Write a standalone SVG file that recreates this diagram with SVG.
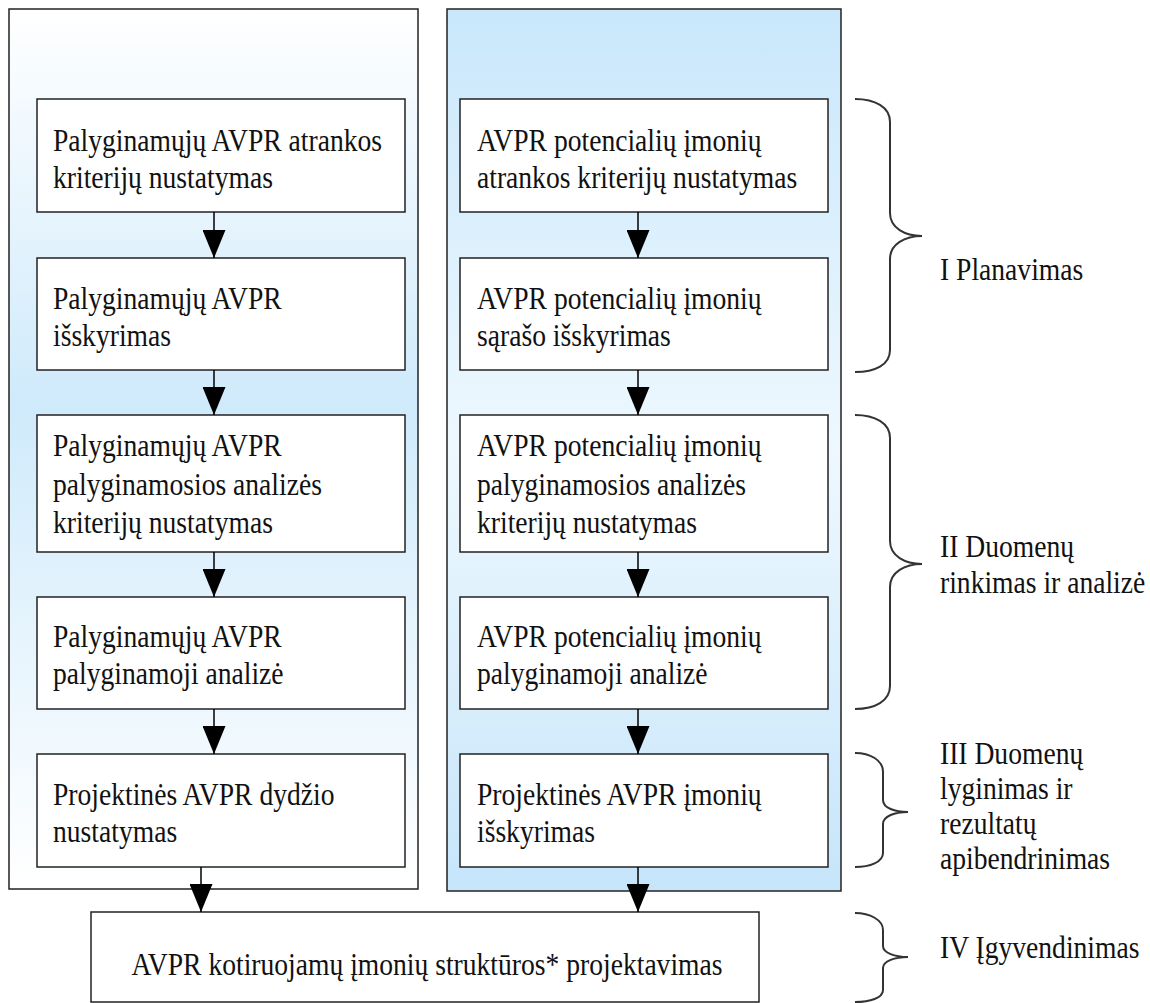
<svg xmlns="http://www.w3.org/2000/svg" width="1150" height="1003" viewBox="0 0 1150 1003">
<defs>
<linearGradient id="gL" x1="0" y1="0" x2="0" y2="1">
<stop offset="0" stop-color="#ffffff"/>
<stop offset="0.45" stop-color="#cfeafb"/>
<stop offset="1" stop-color="#ffffff"/>
</linearGradient>
<linearGradient id="gR" x1="0" y1="0" x2="0" y2="1">
<stop offset="0" stop-color="#c9e7fb"/>
<stop offset="0.5" stop-color="#eef8fe"/>
<stop offset="1" stop-color="#c6e5fa"/>
</linearGradient>
<marker id="ah" markerUnits="userSpaceOnUse" markerWidth="28" markerHeight="23" viewBox="0 0 28 23" refX="28" refY="11.5" orient="auto">
<path d="M0,0 L28,11.5 L0,23 z" fill="#000"/>
</marker>
</defs>
<style>
.panel{stroke:#222;stroke-width:1.5}
.box{fill:#fff;stroke:#222;stroke-width:1.5}
.t{font-family:'Liberation Serif','Times New Roman',serif;font-size:27.6px;fill:#111}
.c{stroke:#000;stroke-width:1.5;fill:none}
.br{stroke:#333;stroke-width:2;fill:none}
</style>
<g id="panel-left"><rect class="panel" x="9" y="9" width="409" height="880" fill="url(#gL)"/></g>
<g id="panel-right"><rect class="panel" x="447" y="9" width="394" height="882" fill="url(#gR)"/></g>

<g id="L1"><rect class="box" x="37" y="99" width="368" height="113"/>
<text class="t" transform="matrix(1 0 0 1.18 0 0)"><tspan x="53" y="127.97">Palyginamųjų AVPR atrankos</tspan><tspan x="53" y="159.32">kriterijų nustatymas</tspan></text></g>
<g id="L2"><rect class="box" x="37" y="258" width="368" height="112"/>
<text class="t" transform="matrix(1 0 0 1.18 0 0)"><tspan x="53" y="261.86">Palyginamųjų AVPR</tspan><tspan x="53" y="293.22">išskyrimas</tspan></text></g>
<g id="L3"><rect class="box" x="37" y="415" width="368" height="137"/>
<text class="t" transform="matrix(1 0 0 1.18 0 0)"><tspan x="53" y="386.44">Palyginamųjų AVPR</tspan><tspan x="53" y="419.49">palyginamosios analizės</tspan><tspan x="53" y="451.69">kriterijų nustatymas</tspan></text></g>
<g id="L4"><rect class="box" x="37" y="597" width="368" height="112"/>
<text class="t" transform="matrix(1 0 0 1.18 0 0)"><tspan x="53" y="548.31">Palyginamųjų AVPR</tspan><tspan x="53" y="579.66">palyginamoji analizė</tspan></text></g>
<g id="L5"><rect class="box" x="37" y="754" width="368" height="113"/>
<text class="t" transform="matrix(1 0 0 1.18 0 0)"><tspan x="53" y="682.2">Projektinės AVPR dydžio</tspan><tspan x="53" y="713.56">nustatymas</tspan></text></g>

<g id="R1"><rect class="box" x="460" y="99" width="368" height="113"/>
<text class="t" transform="matrix(1 0 0 1.18 0 0)"><tspan x="477" y="127.97">AVPR potencialių įmonių</tspan><tspan x="477" y="159.32">atrankos kriterijų nustatymas</tspan></text></g>
<g id="R2"><rect class="box" x="460" y="258" width="368" height="112"/>
<text class="t" transform="matrix(1 0 0 1.18 0 0)"><tspan x="477" y="261.86">AVPR potencialių įmonių</tspan><tspan x="477" y="293.22">sąrašo išskyrimas</tspan></text></g>
<g id="R3"><rect class="box" x="460" y="415" width="368" height="137"/>
<text class="t" transform="matrix(1 0 0 1.18 0 0)"><tspan x="477" y="386.44">AVPR potencialių įmonių</tspan><tspan x="477" y="419.49">palyginamosios analizės</tspan><tspan x="477" y="451.69">kriterijų nustatymas</tspan></text></g>
<g id="R4"><rect class="box" x="460" y="597" width="368" height="112"/>
<text class="t" transform="matrix(1 0 0 1.18 0 0)"><tspan x="477" y="548.31">AVPR potencialių įmonių</tspan><tspan x="477" y="579.66">palyginamoji analizė</tspan></text></g>
<g id="R5"><rect class="box" x="460" y="754" width="368" height="113"/>
<text class="t" transform="matrix(1 0 0 1.18 0 0)"><tspan x="477" y="682.2">Projektinės AVPR įmonių</tspan><tspan x="477" y="713.56">išskyrimas</tspan></text></g>

<g id="B"><rect class="box" x="91" y="912" width="668" height="90"/>
<text class="t" transform="matrix(1 0 0 1.18 0 0)" x="427" y="826.27" text-anchor="middle">AVPR kotiruojamų įmonių struktūros* projektavimas</text></g>

<g id="connectors">
<line class="c" x1="214" y1="212" x2="214" y2="258" marker-end="url(#ah)"/>
<line class="c" x1="214" y1="370" x2="214" y2="415" marker-end="url(#ah)"/>
<line class="c" x1="214" y1="552" x2="214" y2="597" marker-end="url(#ah)"/>
<line class="c" x1="214" y1="709" x2="214" y2="754" marker-end="url(#ah)"/>
<line class="c" x1="201" y1="867" x2="201" y2="912" marker-end="url(#ah)"/>
<line class="c" x1="638" y1="212" x2="638" y2="258" marker-end="url(#ah)"/>
<line class="c" x1="638" y1="370" x2="638" y2="415" marker-end="url(#ah)"/>
<line class="c" x1="638" y1="552" x2="638" y2="597" marker-end="url(#ah)"/>
<line class="c" x1="638" y1="709" x2="638" y2="754" marker-end="url(#ah)"/>
<line class="c" x1="638" y1="867" x2="638" y2="912" marker-end="url(#ah)"/>
</g>

<g id="brace1"><path class="br" d="M855,99 C875,99 890,107 890,122 L890,213 C890,228 905,236 922,236 C905,236 890,244 890,259 L890,350 C890,365 875,372 855,372"/>
<text class="t" transform="matrix(1 0 0 1.18 0 0)" x="940" y="237.29">I Planavimas</text></g>
<g id="brace2"><path class="br" d="M855,415 C875,415 890,423 890,438 L890,541 C890,556 905,564 922,564 C905,564 890,572 890,587 L890,686 C890,701 875,709 855,709"/>
<text class="t" transform="matrix(1 0 0 1.18 0 0)"><tspan x="940" y="472.03">II Duomenų</tspan><tspan x="940" y="502.54">rinkimas ir analizė</tspan></text></g>
<g id="brace3"><path class="br" d="M855,753 C870,753 883,760 883,772 L883,800 C883,808 895,812 908,812 C895,812 883,816 883,824 L883,853 C883,862 870,867 855,867"/>
<text class="t" transform="matrix(1 0 0 1.18 0 0)"><tspan x="940" y="647.46">III Duomenų</tspan><tspan x="940" y="677.12">lyginimas ir</tspan><tspan x="940" y="706.78">rezultatų</tspan><tspan x="940" y="736.44">apibendrinimas</tspan></text></g>
<g id="brace4"><path class="br" d="M855,913 C870,913 883,920 883,930 L883,946 C883,953 895,957 908,957 C895,957 883,961 883,968 L883,990 C883,998 870,1002 855,1002"/>
<text class="t" transform="matrix(1 0 0 1.18 0 0)" x="940" y="811.86">IV Įgyvendinimas</text></g>
</svg>
